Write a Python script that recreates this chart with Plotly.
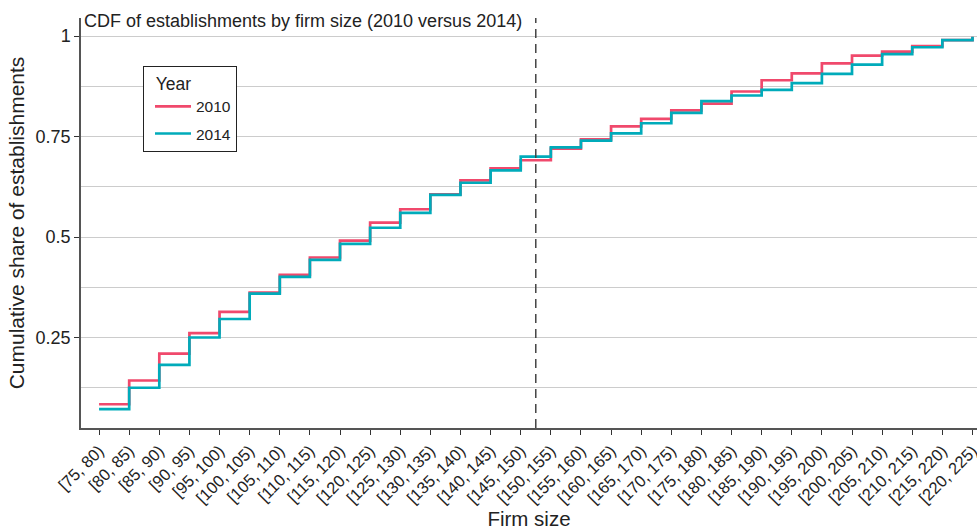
import plotly.graph_objects as go

categories = ["[75, 80)", "[80, 85)", "[85, 90)", "[90, 95)", "[95, 100)", "[100, 105)",
              "[105, 110)", "[110, 115)", "[115, 120)", "[120, 125)", "[125, 130)",
              "[130, 135)", "[135, 140)", "[140, 145)", "[145, 150)", "[150, 155)",
              "[155, 160)", "[160, 165)", "[165, 170)", "[170, 175)", "[175, 180)",
              "[180, 185)", "[185, 190)", "[190, 195)", "[195, 200)", "[200, 205)",
              "[205, 210)", "[210, 215)", "[215, 220)", "[220, 225)"]

cdf_2010 = [0.084, 0.143, 0.210, 0.261, 0.314, 0.362, 0.406, 0.449, 0.491, 0.536,
            0.569, 0.606, 0.641, 0.671, 0.691, 0.720, 0.743, 0.775, 0.794, 0.815,
            0.832, 0.862, 0.890, 0.907, 0.932, 0.951, 0.961, 0.975, 0.990, 0.998]
cdf_2014 = [0.072, 0.125, 0.182, 0.250, 0.296, 0.359, 0.401, 0.443, 0.483, 0.523,
            0.560, 0.605, 0.635, 0.666, 0.700, 0.723, 0.740, 0.758, 0.783, 0.809,
            0.838, 0.852, 0.866, 0.883, 0.906, 0.929, 0.955, 0.972, 0.990, 0.998]

threshold_position = 14.5  # between [145,150) and [150,155)

years = ["2010", "2014"]
colors = ["#F0496C", "#00ABBA"]

idx = list(range(len(categories)))

fig = go.Figure()
for name, vals, col in zip(years, [cdf_2010, cdf_2014], colors):
    fig.add_trace(go.Scatter(x=idx, y=vals, mode="lines", name=name, legendgroup=name,
                             line=dict(color=col, width=2.7, shape="hv")))

fig.add_shape(type="line", x0=threshold_position, x1=threshold_position, xref="x",
              y0=0, y1=1, yref="paper",
              line=dict(color="#444444", width=1.5, dash="9px,6px"))

fig.update_layout(
    width=977, height=531,
    margin=dict(l=81, r=0, t=18, b=103),
    paper_bgcolor="white", plot_bgcolor="white",
    font=dict(family="Liberation Sans, Arial, sans-serif", color="#222222", size=16),
    title=dict(text="CDF of establishments by firm size (2010 versus 2014)",
               x=84/977, xanchor="left", y=1-21/531, yanchor="middle",
               font=dict(size=18, color="#222222")),
    xaxis=dict(range=[-0.6, 29.15], tickmode="array", tickvals=idx, ticktext=categories,
               tickangle=-45, showgrid=False, zeroline=False, automargin=False,
               ticklabeloverflow="allow",
               showline=True, linecolor="#555555", linewidth=1.5,
               ticks="outside", ticklen=5, tickcolor="#333333", tickwidth=1.2,
               tickfont=dict(size=16.5, color="#222222"),
               title=dict(text="Firm size", font=dict(size=20.5, color="#222222"), standoff=1)),
    yaxis=dict(range=[0.0249, 1.0448], tickmode="array", tickvals=[0.25, 0.5, 0.75, 1],
               ticktext=["0.25", "0.5", "0.75", "1"], automargin=False,
               showgrid=True, gridcolor="#CCCCCC", gridwidth=1.2, zeroline=False,
               minor=dict(tickmode="array", tickvals=[0.125, 0.375, 0.625, 0.875],
                          showgrid=True, gridcolor="#CCCCCC", gridwidth=1.2),
               showline=True, linecolor="#555555", linewidth=1.5,
               ticks="outside", ticklen=5, tickcolor="#333333", tickwidth=1.2,
               tickfont=dict(size=18, color="#222222"),
               title=dict(text="Cumulative share of establishments",
                          font=dict(size=21, color="#222222"), standoff=5)),
    legend=dict(x=(143-81)/896, y=(428-66)/410, xanchor="left", yanchor="top",
                bgcolor="white", bordercolor="#222222", borderwidth=1,
                title=dict(text="\u00a0\u00a0Year", font=dict(size=17.5)),
                font=dict(size=15.5), traceorder="grouped", tracegroupgap=4,
                indentation=6, itemwidth=36, entrywidth=48),
    showlegend=True,
)

fig.write_html("out.html", config={"displayModeBar": False},
               post_script="document.body.style.margin='0';document.body.style.padding='0';"
                           "document.body.style.overflow='hidden';")
